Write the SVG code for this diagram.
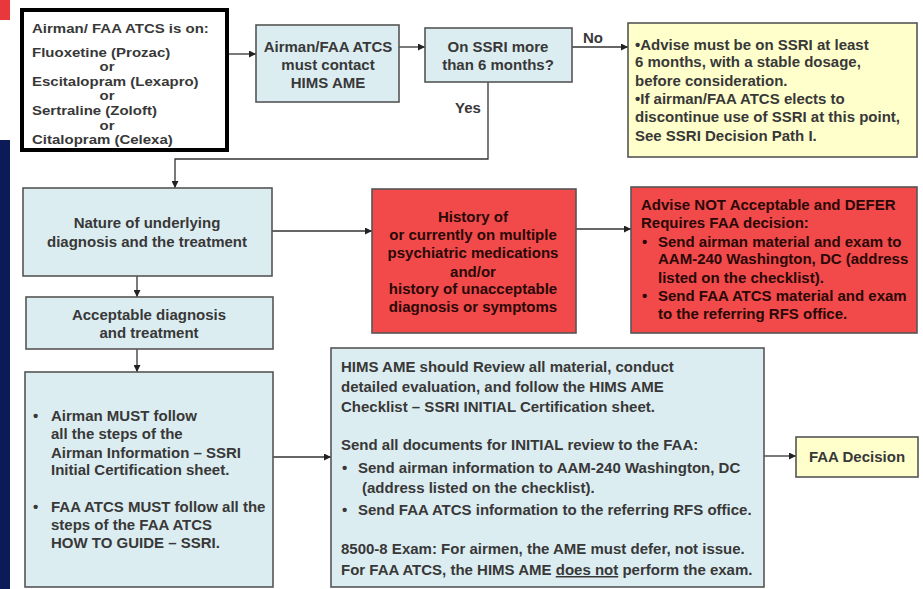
<svg xmlns="http://www.w3.org/2000/svg" width="923" height="589" viewBox="0 0 923 589">
<defs>
<marker id="ah" viewBox="0 0 10 10" refX="10" refY="5" markerWidth="7" markerHeight="7" markerUnits="userSpaceOnUse" orient="auto"><path d="M0,0 L10,5 L0,10 z" fill="#222"/></marker>
<style>
text{font-family:"Liberation Sans",Arial,sans-serif;font-weight:bold;font-size:15px;fill:#383838}
.c{text-anchor:middle}
.blue{fill:#dcedf1;stroke:#555;stroke-width:1.6}
.yel{fill:#ffffcc;stroke:#555;stroke-width:1.6}
.red{fill:#f24a4a;stroke:#555;stroke-width:1.6}
.rt{fill:#2a0808}
.conn path{fill:none;stroke:#333;stroke-width:1.3}
</style>
</defs>
<rect x="0" y="0" width="10" height="20" fill="#e8383c"/>
<rect x="0" y="140" width="10" height="449" fill="#0c1a5a"/>
<g class="conn">
<path d="M228,54 H256" marker-end="url(#ah)"/>
<path d="M399,47 H425" marker-end="url(#ah)"/>
<path d="M572,47 H628" marker-end="url(#ah)"/>
<path d="M488,82 V159 H175 V188" marker-end="url(#ah)"/>
<path d="M272,231 H372" marker-end="url(#ah)"/>
<path d="M576,229 H631" marker-end="url(#ah)"/>
<path d="M137,276 V297" marker-end="url(#ah)"/>
<path d="M137,349 V372" marker-end="url(#ah)"/>
<path d="M273,457 H331" marker-end="url(#ah)"/>
<path d="M764,456 H796" marker-end="url(#ah)"/>
<text x="593" y="43" class="c">No</text>
<text x="468" y="113" class="c">Yes</text>
</g>
<g id="start">
<rect x="22" y="10" width="205" height="140" fill="#fff" stroke="#000" stroke-width="4"/>
<g transform="scale(1,0.84)">
<text x="32" y="39.3">Airman/ FAA ATCS is on:</text>
<text x="32" y="67.9">Fluoxetine (Prozac)</text>
<text x="107" y="85.1" class="c">or</text>
<text x="32" y="102.4">Escitalopram (Lexapro)</text>
<text x="107" y="119.6" class="c">or</text>
<text x="32" y="136.9">Sertraline (Zoloft)</text>
<text x="107" y="154.2" class="c">or</text>
<text x="32" y="171.4">Citalopram (Celexa)</text>
</g>
</g>
<g id="contact">
<rect x="256" y="25" width="143" height="77" class="blue"/>
<text x="328" y="52" class="c">Airman/FAA ATCS</text>
<text x="328" y="70" class="c">must contact</text>
<text x="328" y="88" class="c">HIMS AME</text>
</g>
<g id="ssri6">
<rect x="425" y="28" width="147" height="54" class="blue"/>
<text x="498" y="52" class="c">On SSRI more</text>
<text x="498" y="70" class="c">than 6 months?</text>
</g>
<g id="advise">
<rect x="628" y="23" width="289" height="134" class="yel"/>
<text x="635" y="50">•Advise must be on SSRI at least</text>
<text x="635" y="67">6 months, with a stable dosage,</text>
<text x="635" y="86"> before consideration.</text>
<text x="635" y="104">•If airman/FAA ATCS elects to</text>
<text x="635" y="122">discontinue use of SSRI at this point,</text>
<text x="635" y="141">See SSRI Decision Path I.</text>
</g>
<g id="nature">
<rect x="23" y="188" width="249" height="88" class="blue"/>
<text x="147" y="228" class="c">Nature of underlying</text>
<text x="147" y="247" class="c">diagnosis and the treatment</text>
</g>
<g id="history">
<rect x="372" y="189" width="204" height="144" class="red"/>
<text x="473" y="222" class="c rt">History of</text>
<text x="473" y="240" class="c rt">or currently on multiple</text>
<text x="473" y="258" class="c rt">psychiatric medications</text>
<text x="473" y="277" class="c rt">and/or</text>
<text x="473" y="294" class="c rt">history of unacceptable</text>
<text x="473" y="312" class="c rt">diagnosis or symptoms</text>
</g>
<g id="defer">
<rect x="631" y="187" width="286" height="146" class="red"/>
<text x="641" y="210" class="rt">Advise NOT Acceptable and DEFER</text>
<text x="641" y="228" class="rt">Requires FAA decision:</text>
<text x="642" y="247" class="rt">•</text>
<text x="658" y="247" class="rt">Send airman material and exam to</text>
<text x="658" y="264" class="rt">AAM-240 Washington, DC (address</text>
<text x="658" y="283" class="rt">listed on the checklist).</text>
<text x="642" y="301" class="rt">•</text>
<text x="658" y="301" class="rt">Send FAA ATCS material and exam</text>
<text x="658" y="319" class="rt">to the referring RFS office.</text>
</g>
<g id="acceptable">
<rect x="26" y="297" width="247" height="52" class="blue"/>
<text x="149" y="320" class="c">Acceptable diagnosis</text>
<text x="149" y="338" class="c">and treatment</text>
</g>
<g id="must">
<rect x="25" y="372" width="248" height="215" class="blue"/>
<text x="33" y="421">•</text>
<text x="51" y="421">Airman MUST follow</text>
<text x="51" y="439">all the steps of the</text>
<text x="51" y="458">Airman Information – SSRI</text>
<text x="51" y="475">Initial Certification sheet.</text>
<text x="33" y="512">•</text>
<text x="51" y="512">FAA ATCS MUST follow all the</text>
<text x="51" y="530">steps of the FAA ATCS</text>
<text x="51" y="548">HOW TO GUIDE – SSRI.</text>
</g>
<g id="hims">
<rect x="331" y="348" width="433" height="239" class="blue"/>
<text x="341" y="372">HIMS AME should Review all material, conduct</text>
<text x="341" y="392">detailed evaluation, and follow the HIMS AME</text>
<text x="341" y="412">Checklist – SSRI INITIAL Certification sheet.</text>
<text x="341" y="450">Send all documents for INITIAL review to the FAA:</text>
<text x="342" y="473">•</text>
<text x="358" y="473">Send airman information to AAM-240 Washington, DC</text>
<text x="362" y="493">(address listed on the checklist).</text>
<text x="342" y="515">•</text>
<text x="358" y="515">Send FAA ATCS  information to the referring RFS office.</text>
<text x="341" y="554">8500-8 Exam: For airmen, the AME must defer, not issue.</text>
<text x="341" y="575">For FAA ATCS, the HIMS AME <tspan text-decoration="underline">does not</tspan> perform the exam.</text>
</g>
<g id="decision">
<rect x="796" y="437" width="122" height="40" class="yel"/>
<text x="857" y="462" class="c">FAA Decision</text>
</g>
</svg>
